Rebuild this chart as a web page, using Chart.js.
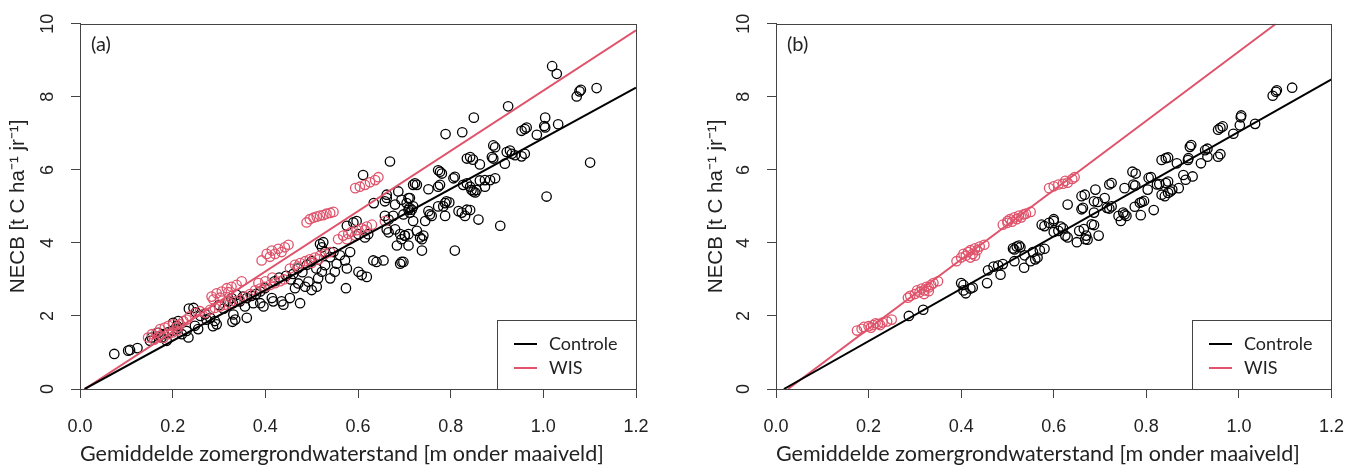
<!DOCTYPE html>
<html>
<head>
<meta charset="utf-8">
<script src="https://cdn.jsdelivr.net/npm/chart.js@4"></script>
<style>
  body { margin: 0; background: #fff; }
  canvas { position: absolute; top: 0; }
  #chartA { left: 0; }
  #chartB { left: 680px; }
</style>
</head>
<body>
<canvas id="chartA" width="680" height="468"></canvas>
<canvas id="chartB" width="682" height="468"></canvas>
<script>
// as-tick labels
const xTicks = [0, 0.2, 0.4, 0.6, 0.8, 1.0, 1.2];
const yTicks = [0, 2, 4, 6, 8, 10];
const seriesNames = ['Controle', 'WIS'];

// (a) Controle: [grondwaterstand, NECB]
const controleA = [
  [0.074,0.96],[0.104,1.05],[0.108,1.07],[0.124,1.12],
  [0.151,1.32],[0.155,1.41],[0.169,1.54],[0.176,1.41],[0.187,1.32],
  [0.17,1.45],[0.18,1.5],[0.19,1.55],[0.2,1.6],[0.21,1.65],
  [0.201,1.81],[0.212,1.86],[0.209,1.73],[0.22,1.5],[0.23,1.59],[0.234,1.41],
  [0.245,2.22],[0.235,2.2],[0.248,1.73],[0.255,1.64],[0.25,2.1],[0.26,2.0],[0.27,2.05],
  [0.273,1.9],[0.281,1.95],[0.291,1.86],[0.295,1.77],[0.287,1.72],
  [0.3,2.3],[0.31,2.2],[0.32,2.4],[0.33,2.35],[0.329,1.84],
  [0.331,2.04],[0.335,1.9],[0.345,2.4],[0.356,2.26],[0.352,2.53],[0.36,1.95],[0.338,2.58],[0.327,2.49],
  [0.36,2.49],[0.374,2.35],[0.389,2.35],[0.396,2.26],[0.389,2.67],[0.399,2.76],[0.414,2.49],[0.417,2.4],
  [0.37,2.55],[0.38,2.6],[0.42,2.95],[0.43,3.05],[0.445,3.1],[0.455,3.0],[0.46,3.15],
  [0.48,3.2],[0.47,3.3],[0.49,3.4],[0.5,3.5],[0.51,3.3],
  [0.435,2.4],[0.439,2.31],[0.453,2.49],[0.464,2.76],[0.471,2.89],
  [0.475,2.35],[0.486,2.8],[0.493,2.94],[0.5,2.71],[0.514,3.03],[0.511,2.8],
  [0.522,3.21],[0.529,3.39],[0.54,3.03],[0.55,3.21],[0.554,3.43],
  [0.518,3.97],[0.525,4.02],[0.522,3.88],[0.529,3.75],[0.54,3.61],[0.547,3.75],
  [0.561,3.66],[0.572,3.52],[0.583,3.75],[0.576,3.3],[0.574,2.76],
  [0.601,3.21],[0.608,3.12],[0.619,3.07],
  [0.576,4.47],[0.59,4.56],[0.597,4.6],[0.601,4.24],[0.615,4.15],[0.622,4.24],
  [0.611,5.86],[0.633,3.52],[0.64,3.48],[0.655,3.52],
  [0.662,4.37],[0.666,4.29],[0.68,4.37],[0.684,3.93],[0.694,4.1],[0.701,4.2],[0.691,3.43],[0.698,3.48],[0.709,3.93],
  [0.662,5.23],[0.658,5.14],[0.662,5.32],[0.68,5.05],[0.705,5.09],[0.712,5.23],[0.687,5.41],[0.719,5.59],[0.723,5.63],
  [0.658,4.74],[0.666,4.64],[0.676,4.74],[0.698,4.78],[0.709,4.91],[0.712,4.83],[0.727,4.33],[0.719,4.6],
  [0.669,6.23],[0.634,5.09],
  [0.85,7.43],[0.789,6.98],[0.825,7.03],[0.924,7.74],[1.004,7.43],[1.002,7.2],[1.004,7.16],[1.032,7.25],
  [0.953,7.07],[0.96,7.12],[0.964,7.16],[0.986,6.96],
  [0.892,6.67],[0.896,6.62],[0.889,6.35],[0.892,6.31],[0.921,6.49],[0.928,6.53],[0.932,6.44],[0.939,6.4],
  [0.953,6.37],[0.96,6.44],[0.917,6.17],
  [0.835,6.31],[0.842,6.35],[0.848,6.28],[0.863,6.15],[0.777,5.95],[0.781,5.9],[0.806,5.77],[0.809,5.81],
  [0.727,5.59],[0.773,5.54],[0.777,5.59],[0.752,5.47],
  [0.827,5.59],[0.835,5.63],[0.842,5.54],[0.845,5.45],[0.849,5.41],[0.853,5.38],[0.856,5.45],
  [0.863,5.71],[0.874,5.72],[0.885,5.72],[0.896,5.77],[0.874,5.54],
  [1.007,5.27],[0.907,4.47],[0.809,3.79],[0.86,4.64],[0.835,4.91],[0.842,4.9],[0.831,4.74],[0.817,4.87],[0.824,4.83],
  [0.788,5.09],[0.791,5.14],[0.797,5.11],[0.773,5.0],[0.784,5.0],
  [0.752,4.87],[0.755,4.78],[0.759,4.74],[0.745,4.6],[0.788,4.74],[0.711,4.96],[0.716,4.91],[0.719,5.0],
  [0.694,5.18],[0.709,5.23],
  [0.691,4.24],[0.701,4.2],[0.709,4.24],[0.734,4.15],[0.738,4.1],[0.741,4.2],[0.738,3.79],[0.694,3.48],[0.773,5.99],
  [1.019,8.84],[1.029,8.63],[1.072,8.01],[1.078,8.15],[1.081,8.19],[1.115,8.24],[1.101,6.2]
];

// (a) WIS
const wisA = [
  [0.147,1.41],[0.155,1.5],[0.165,1.54],[0.173,1.64],[0.183,1.68],[0.191,1.73],[0.201,1.77],[0.209,1.68],
  [0.216,1.77],[0.223,1.86],[0.23,1.9],
  [0.16,1.35],[0.17,1.45],[0.18,1.4],[0.19,1.5],[0.2,1.55],[0.21,1.6],
  [0.237,1.99],[0.248,2.08],[0.259,2.13],[0.27,2.08],[0.281,2.17],[0.291,2.22],[0.302,2.26],[0.313,2.31],
  [0.324,2.35],[0.335,2.4],[0.345,2.44],[0.356,2.53],
  [0.367,2.6],[0.378,2.7],[0.389,2.75],[0.399,2.8],[0.41,2.85],[0.421,2.9],[0.432,2.95],[0.44,3.0],
  [0.385,2.9],[0.4,2.95],[0.415,3.05],
  [0.453,3.3],[0.464,3.4],[0.475,3.45],[0.486,3.5],[0.496,3.55],[0.507,3.6],[0.518,3.65],[0.529,3.7],
  [0.54,3.75],[0.47,3.35],[0.5,3.45],[0.515,3.55],
  [0.557,4.1],[0.568,4.2],[0.579,4.25],[0.586,4.3],[0.597,4.35],[0.608,4.4],[0.619,4.45],[0.63,4.5],
  [0.576,4.1],[0.594,4.2],[0.615,4.35],[0.658,4.6],
  [0.284,2.53],[0.295,2.62],[0.306,2.67],[0.317,2.76],[0.327,2.8],[0.338,2.85],[0.349,2.95],[0.288,2.45],
  [0.302,2.5],[0.32,2.65],
  [0.392,3.52],[0.403,3.7],[0.414,3.79],[0.421,3.7],[0.428,3.84],[0.435,3.75],[0.442,3.88],[0.45,3.95],[0.41,3.62],
  [0.489,4.56],[0.496,4.65],[0.504,4.69],[0.511,4.72],[0.518,4.75],[0.525,4.76],[0.532,4.8],[0.54,4.82],[0.547,4.85],
  [0.594,5.5],[0.604,5.54],[0.615,5.59],[0.626,5.66],[0.637,5.72],[0.644,5.8]
];

// (b) Controle
const controleB = [
  [0.287,2.0],[0.318,2.17],
  [0.4,2.9],[0.405,2.85],[0.405,2.7],[0.41,2.62],[0.42,2.75],[0.425,2.78],
  [0.456,2.9],[0.458,3.25],[0.47,3.35],[0.48,3.38],[0.49,3.42],[0.485,3.13],
  [0.512,3.85],[0.515,3.82],[0.52,3.9],[0.525,3.93],[0.528,3.88],[0.515,3.5],[0.536,3.32],[0.537,3.66],
  [0.55,3.5],[0.555,3.75],[0.56,3.55],[0.565,3.6],[0.57,3.8],[0.58,3.84],
  [0.574,4.5],[0.58,4.46],[0.59,4.55],[0.6,4.6],[0.6,4.65],
  [0.6,4.3],[0.61,4.33],[0.62,4.4],[0.615,4.45],[0.625,4.2],[0.63,4.15],[0.63,5.05],
  [0.65,4.02],[0.655,4.33],[0.665,4.38],[0.66,4.92],[0.663,4.96],[0.66,5.28],[0.667,5.32],
  [0.668,4.1],[0.673,4.09],[0.67,4.2],[0.682,4.51],[0.687,4.49],[0.687,4.83],[0.687,5.14],[0.695,5.12],
  [0.69,5.46],[0.697,4.2],
  [0.71,5.23],[0.715,4.96],[0.72,4.94],[0.72,5.6],[0.725,5.64],[0.725,5.0],
  [0.74,4.74],[0.745,4.6],[0.75,4.83],[0.753,4.78],[0.757,4.74],[0.753,5.5],
  [0.77,5.95],[0.777,5.9],[0.772,5.6],[0.776,5.57],[0.775,4.99],[0.786,5.1],[0.79,5.12],[0.795,5.15],[0.788,4.76],
  [0.803,5.46],[0.805,5.78],[0.81,5.8],[0.816,4.9],[0.823,5.6],[0.828,5.61],
  [0.833,6.27],[0.842,6.32],[0.847,6.34],[0.833,5.32],[0.84,5.28],[0.847,5.37],[0.852,5.41],[0.856,5.46],
  [0.842,5.64],[0.847,5.68],
  [0.866,6.18],[0.87,5.5],[0.88,5.86],[0.885,5.73],[0.89,6.27],[0.891,6.32],[0.894,6.63],[0.897,6.68],[0.9,5.82],
  [0.918,6.18],[0.927,6.54],[0.932,6.58],[0.932,6.36],[0.955,6.36],[0.96,6.43],[0.955,7.1],[0.96,7.15],[0.965,7.19],
  [0.988,6.99],[1.002,7.22],[1.004,7.44],[1.005,7.49],[1.035,7.26],[1.073,8.03],[1.08,8.14],[1.082,8.18],[1.115,8.25]
];

// (b) WIS
const wisB = [
  [0.175,1.6],[0.185,1.65],[0.19,1.7],[0.2,1.72],[0.205,1.68],[0.21,1.75],[0.215,1.8],[0.22,1.78],
  [0.225,1.75],[0.23,1.82],[0.24,1.85],[0.25,1.9],
  [0.285,2.5],[0.29,2.55],[0.3,2.6],[0.305,2.7],[0.31,2.65],[0.315,2.75],[0.32,2.7],[0.325,2.8],
  [0.33,2.78],[0.335,2.85],[0.34,2.9],[0.35,2.95],[0.32,2.6],[0.33,2.68],
  [0.39,3.5],[0.4,3.6],[0.405,3.7],[0.41,3.65],[0.415,3.75],[0.42,3.8],[0.425,3.7],[0.43,3.85],
  [0.435,3.8],[0.44,3.9],[0.45,3.95],[0.43,3.65],[0.42,3.6],
  [0.49,4.5],[0.5,4.6],[0.505,4.65],[0.51,4.58],[0.515,4.7],[0.52,4.65],[0.525,4.75],[0.53,4.7],
  [0.535,4.78],[0.54,4.8],[0.55,4.85],[0.5,4.55],
  [0.59,5.5],[0.6,5.55],[0.61,5.6],[0.62,5.62],[0.625,5.7],[0.63,5.65],[0.64,5.75],[0.645,5.8]
];

// regressielijnen (begin- en eindpunt)
const fitControleA = [[0.01,0],[1.2,8.25]];
const fitWisA = [[0.01,0],[1.2,9.82]];
const fitControleB = [[0.017,0],[1.2,8.48]];
const fitWisB = [[0.026,0],[1.08,10]];

const BLACK = '#000000';
const RED = '#DF536B';
const AXIS = '#444444';

const toXY = arr => arr.map(p => ({ x: p[0], y: p[1] }));

// box, paneelletter en legenda (R-stijl)
const rFrame = {
  id: 'rFrame',
  afterDraw(chart, args, opts) {
    const { ctx, chartArea: a } = chart;
    ctx.save();
    ctx.strokeStyle = AXIS;
    ctx.lineWidth = 1;
    ctx.strokeRect(Math.round(a.left) + 0.5, Math.round(a.top) + 0.5,
      Math.round(a.right - a.left), Math.round(a.bottom - a.top));

    ctx.fillStyle = '#222';
    ctx.font = '20px Lato';
    ctx.textBaseline = 'middle';
    ctx.textAlign = 'left';
    ctx.fillText(opts.letter, a.left + 11, a.top + 21);

    // legenda rechtsonder
    const w = 139, h = 69;
    const x0 = Math.round(a.right - w), y0 = Math.round(a.bottom - h);
    ctx.fillStyle = '#fff';
    ctx.fillRect(x0, y0, w, h);
    ctx.strokeStyle = AXIS;
    ctx.strokeRect(x0 + 0.5, y0 + 0.5, w, h);
    const items = chart.data.datasets.filter(d => d.showLine);
    items.forEach((d, i) => {
      const yy = y0 + 24 + i * 24;
      ctx.strokeStyle = d.borderColor;
      ctx.lineWidth = 2;
      ctx.beginPath();
      ctx.moveTo(x0 + 17, yy);
      ctx.lineTo(x0 + 40, yy);
      ctx.stroke();
      ctx.fillStyle = '#222';
      ctx.font = '18px Lato';
      ctx.fillText(d.label, x0 + 52, yy);
    });
    ctx.restore();
  }
};

function makeChart(id, letter, ctrlPts, wisPts, ctrlFit, wisFit, yAxisWidth, yTitlePad, padRight) {
  return new Chart(document.getElementById(id), {
    type: 'scatter',
    data: {
      datasets: [
        { label: seriesNames[0], data: toXY(ctrlFit), showLine: true, borderColor: BLACK,
          borderWidth: 2, pointRadius: 0, order: 0 },
        { label: seriesNames[1], data: toXY(wisFit), showLine: true, borderColor: RED,
          borderWidth: 2, pointRadius: 0, order: 0 },
        { label: seriesNames[1] + ' punten', data: toXY(wisPts), borderColor: RED,
          backgroundColor: 'rgba(0,0,0,0)', pointRadius: 4.7, borderWidth: 1.3, order: 1 },
        { label: seriesNames[0] + ' punten', data: toXY(ctrlPts), borderColor: BLACK,
          backgroundColor: 'rgba(0,0,0,0)', pointRadius: 4.7, borderWidth: 1.3, order: 2 }
      ]
    },
    options: {
      responsive: false,
      animation: false,
      events: [],
      layout: { padding: { left: 0, right: padRight, top: 18, bottom: 0 } },
      plugins: {
        legend: { display: false },
        tooltip: { enabled: false },
        rFrame: { letter: letter }
      },
      scales: {
        x: {
          type: 'linear', min: 0, max: 1.2,
          afterBuildTicks: s => { s.ticks = xTicks.map(v => ({ value: v })); },
          afterFit: s => { s.height = 79; },
          grid: { drawOnChartArea: false, drawTicks: true, tickLength: 9, color: AXIS },
          border: { display: true, color: AXIS },
          ticks: { color: '#222', padding: 18, maxRotation: 0,
                   font: { family: '"Liberation Sans", Arial', size: 18 },
                   callback: v => Number(v).toFixed(1) },
          title: { display: true, align: 'start', text: 'Gemiddelde zomergrondwaterstand [m onder maaiveld]',
                   color: '#222', font: { family: 'Lato', size: 21.5 }, padding: { top: 0, bottom: 1 } }
        },
        y: {
          type: 'linear', min: 0, max: 10,
          afterBuildTicks: s => { s.ticks = yTicks.map(v => ({ value: v })); },
          afterFit: s => { s.width = yAxisWidth; },
          grid: { drawOnChartArea: false, drawTicks: true, tickLength: 9, color: AXIS },
          border: { display: true, color: AXIS },
          ticks: { color: '#222', padding: 13, minRotation: 90, maxRotation: 90, crossAlign: 'center',
                   font: { family: '"Liberation Sans", Arial', size: 18 },
                   callback: v => String(v) },
          title: { display: true, text: 'NECB [t C ha\u207B\u00B9 jr\u207B\u00B9]',
                   color: '#222', font: { family: '"Liberation Sans", Arial', size: 20.5 },
                   padding: { top: yTitlePad, bottom: 0 } }
        }
      }
    },
    plugins: [rFrame]
  });
}

makeChart('chartA', '(a)', controleA, wisA, fitControleA, fitWisA, 80, 6, 44);
makeChart('chartB', '(b)', controleB, wisB, fitControleB, fitWisB, 96, 24, 30);
</script>
</body>
</html>
